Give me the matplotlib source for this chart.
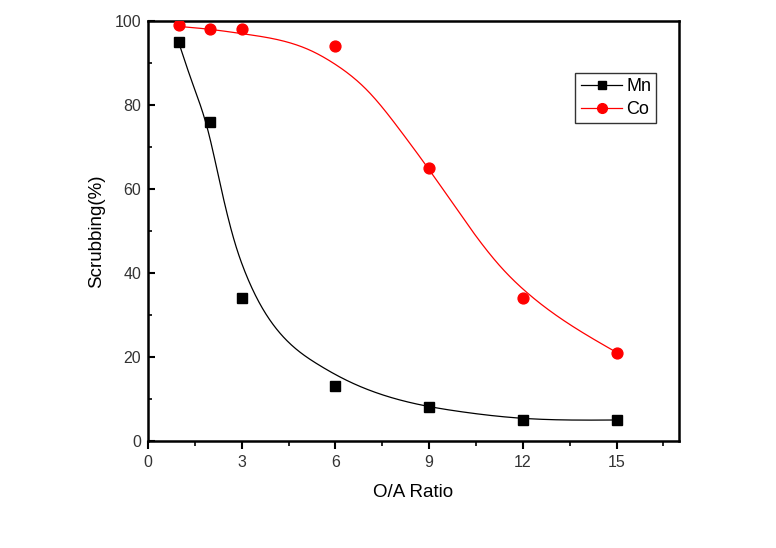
import numpy as np
import matplotlib
matplotlib.use("Agg")
import matplotlib.pyplot as plt
from matplotlib.ticker import MultipleLocator

plt.rcParams['font.family'] = ['Liberation Sans', 'DejaVu Sans']

# Measured data
ratio = [1, 2, 3, 6, 9, 12, 15]
mn_values = [95, 76, 34, 13, 8, 5, 5]
co_values = [99, 98, 98, 94, 65, 34, 21]

# Fitted curves
mn_curve_x = [1, 1.4, 1.92, 2.31, 2.79, 3.12, 4.08, 5.45, 6.4, 8.1, 10, 12, 15]
mn_curve_y = [94.5, 85.7, 73.9, 61.2, 47.0, 40.0, 27.0, 18.2, 14.3, 9.7, 7.0, 5.4, 5.0]
co_curve_x = [1, 2, 3, 4.35, 5.2, 5.95, 7.03, 8.1, 9.0, 9.7, 10.45, 11.3, 12.17, 13.45, 15]
co_curve_y = [98.7, 98.0, 97.0, 95.2, 93.0, 89.9, 83.4, 73.7, 64.6, 57.2, 49.3, 41.4, 35.1, 28.0, 21.1]

x_ticks = [0, 3, 6, 9, 12, 15]
y_ticks = [0, 20, 40, 60, 80, 100]


def smooth(xs, ys, n=500):
    """Natural cubic spline rendering of a read-off curve."""
    x = np.asarray(xs, float)
    y = np.asarray(ys, float)
    N = len(x)
    h = np.diff(x)
    A = np.zeros((N, N))
    b = np.zeros(N)
    A[0, 0] = A[-1, -1] = 1
    for i in range(1, N - 1):
        A[i, i - 1] = h[i - 1]
        A[i, i] = 2 * (h[i - 1] + h[i])
        A[i, i + 1] = h[i]
        b[i] = 6 * ((y[i + 1] - y[i]) / h[i] - (y[i] - y[i - 1]) / h[i - 1])
    M = np.linalg.solve(A, b)
    xx = np.linspace(x[0], x[-1], n)
    idx = np.clip(np.searchsorted(x, xx) - 1, 0, N - 2)
    x0, x1 = x[idx], x[idx + 1]
    hh = h[idx]
    yy = (M[idx] * (x1 - xx) ** 3 / (6 * hh) + M[idx + 1] * (xx - x0) ** 3 / (6 * hh)
          + (y[idx] / hh - M[idx] * hh / 6) * (x1 - xx)
          + (y[idx + 1] / hh - M[idx + 1] * hh / 6) * (xx - x0))
    return xx, yy


fig = plt.figure(figsize=(7.76, 5.48), dpi=100)
ax = fig.add_axes([148 / 776, 1 - 441 / 548, 531 / 776, 420 / 548])

mx, my = smooth(mn_curve_x, mn_curve_y)
cx, cy = smooth(co_curve_x, co_curve_y)
ax.plot(mx, my, color='black', lw=0.9, zorder=2)
ax.plot(cx, cy, color='red', lw=0.9, zorder=2)
ax.plot(ratio, mn_values, 's', color='black', ms=6.8, zorder=3)
ax.plot(ratio, co_values, 'o', color='red', ms=7.8, zorder=3)

# legend proxies
ax.plot([], [], '-s', color='black', lw=0.9, ms=6, label='Mn')
ax.plot([], [], '-o', color='red', lw=0.9, ms=7, label='Co')

ax.set_xlim(0, 17)
ax.set_ylim(0, 100)
ax.set_xticks(x_ticks)
ax.set_yticks(y_ticks)
ax.xaxis.set_minor_locator(MultipleLocator(1.5))
ax.yaxis.set_minor_locator(MultipleLocator(10))

for s in ax.spines.values():
    s.set_linewidth(1.8)

ax.tick_params(axis='x', which='major', direction='out', length=6, width=1.5, labelsize=11.5, pad=4)
ax.tick_params(axis='x', which='minor', direction='out', length=3.5, width=1.2)
ax.tick_params(axis='y', which='major', direction='in', length=5, width=1.5, labelsize=11.5, pad=5)
ax.tick_params(axis='y', which='minor', direction='in', length=3, width=1.2)
for lab in ax.get_xticklabels() + ax.get_yticklabels():
    lab.set_color('#333333')

ax.set_xlabel('O/A Ratio', fontsize=13.5, labelpad=10)
ax.set_ylabel('Scrubbing(%)', fontsize=13.5, labelpad=7)

leg = ax.legend(loc='upper left', bbox_to_anchor=(0.805, 0.876), fontsize=13,
                frameon=True, fancybox=False, shadow=False, edgecolor='black',
                handlelength=2.3, handletextpad=0.2, borderpad=0.3,
                labelspacing=0.3, borderaxespad=0)
leg.get_frame().set_linewidth(1.0)

fig.savefig('out.png', dpi=100)
